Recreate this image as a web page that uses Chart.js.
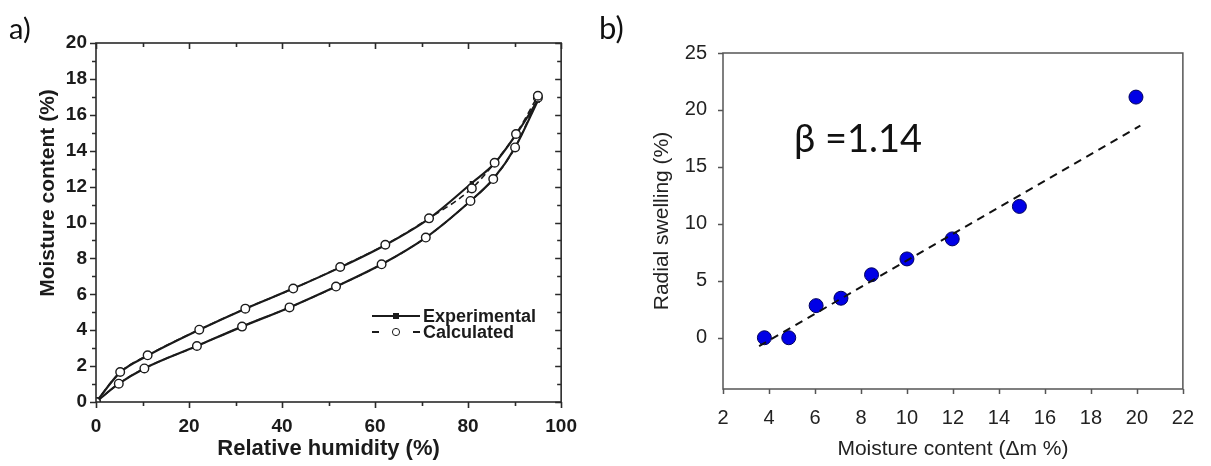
<!DOCTYPE html>
<html>
<head>
<meta charset="utf-8">
<script src="https://cdn.jsdelivr.net/npm/chart.js@4.4.1/dist/chart.umd.min.js"></script>
<style>
  html, body { margin: 0; padding: 0; background: #fff; }
  #page { position: relative; width: 1211px; height: 466px; overflow: hidden; }
  .box { position: absolute; top: 0; height: 466px; }
  #boxA { left: 0; width: 590px; }
  #boxB { left: 590px; width: 621px; }
  .tag { position: absolute; color: #111; white-space: nowrap; line-height: 1; }
  #tagA { left: 9px; top: 10px; font: 29px Lato, 'Open Sans', sans-serif; }
  #tagB { left: 599px; top: 8px; font: 31px Lato, 'Open Sans', sans-serif; }
  #beta { left: 794px; top: 114px; font: 38px Lato, 'Open Sans', sans-serif; }
  #titleYA { left: 47px; top: 193px; transform: translate(-50%, -50%) rotate(-90deg);
             font: bold 21px 'Liberation Sans', Arial, sans-serif; color: #1b1b1b; }
</style>
</head>
<body>
<div id="page">
  <div class="box" id="boxA"><canvas id="chartA" width="590" height="466"></canvas></div>
  <div class="box" id="boxB"><canvas id="chartB" width="621" height="466"></canvas></div>
  <div class="tag" id="tagA">a)</div>
  <div class="tag" id="tagB">b)</div>
  <div class="tag" id="beta">β =1.14</div>
  <div class="tag" id="titleYA">Moisture content (%)</div>
</div>
<script>
// panel a: sorption isotherms (RH %, moisture content %)
const rhUpper   = [0, 5.2, 11.1, 22.2, 32.1, 42.4, 52.5, 62.2, 71.6, 80.8, 85.7, 90.3, 95];
const expUpper  = [0, 1.65, 2.58, 4.02, 5.2, 6.32, 7.5, 8.75, 10.22, 12.2, 13.3, 14.9, 16.8];
const calcUpper = [0, 1.67, 2.6, 4.03, 5.2, 6.32, 7.52, 8.76, 10.23, 11.9, 13.33, 14.93, 17.06];
const rhLower   = [0, 4.9, 10.4, 21.7, 31.4, 41.6, 51.6, 61.4, 70.9, 80.5, 85.4, 90.1, 95];
const expLower  = [0, 1.02, 1.87, 3.12, 4.2, 5.27, 6.43, 7.67, 9.16, 11.2, 12.42, 14.18, 16.8];
const calcLower = [0, 1.02, 1.87, 3.12, 4.2, 5.27, 6.43, 7.67, 9.16, 11.2, 12.42, 14.18, 16.95];
const rhTicks = [0, 20, 40, 60, 80, 100];
const rhMinor = [10, 30, 50, 70, 90];
const mcTicks = [0, 2, 4, 6, 8, 10, 12, 14, 16, 18, 20];
const mcMinor = [1, 3, 5, 7, 9, 11, 13, 15, 17, 19];

// panel b: radial swelling vs moisture content
const dmB = [3.8, 4.86, 6.05, 7.13, 8.46, 10.0, 11.97, 14.89, 19.96];
const swellB = [0, 0, 2.82, 3.47, 5.53, 6.92, 8.68, 11.53, 21.13];
const fitX = [3.57, 20.15];
const fitY = [-0.73, 18.63];
const dmTicks = [2, 4, 6, 8, 10, 12, 14, 16, 18, 20, 22];
const swellTicks = [0, 5, 10, 15, 20, 25];

const ink = '#1b1b1b';
const sans = "'Liberation Sans', Arial, sans-serif";
const pairs = (xs, ys) => xs.map((x, i) => ({ x: x, y: ys[i] }));
const fixTicks = list => scale => { scale.ticks = list.map(v => ({ value: v })); };

// frame around the plot area plus tick marks (side factor 1 = outward, -1 = inward)
const frameTicks = {
  id: 'frameTicks',
  afterDatasetsDraw(chart, args, o) {
    const { ctx, chartArea: a, scales: { x, y } } = chart;
    ctx.save();
    ctx.strokeStyle = o.color;
    ctx.lineWidth = o.width;
    ctx.beginPath();
    const xMark = (vals, len) => vals.forEach(v => {
      const px = Math.round(x.getPixelForValue(v)) + 0.5;
      if (o.bottom) { ctx.moveTo(px, a.bottom); ctx.lineTo(px, a.bottom + len * o.bottom); }
      if (o.top) { ctx.moveTo(px, a.top); ctx.lineTo(px, a.top - len * o.top); }
    });
    const yMark = (vals, len) => vals.forEach(v => {
      const py = Math.round(y.getPixelForValue(v)) + 0.5;
      if (o.left) { ctx.moveTo(a.left, py); ctx.lineTo(a.left - len * o.left, py); }
      if (o.right) { ctx.moveTo(a.right, py); ctx.lineTo(a.right + len * o.right, py); }
    });
    xMark(o.xMajor, o.major); xMark(o.xMinor || [], o.minor);
    yMark(o.yMajor, o.major); yMark(o.yMinor || [], o.minor);
    ctx.stroke();
    ctx.strokeRect(a.left, a.top, a.right - a.left, a.bottom - a.top);
    ctx.restore();
  }
};

// legend of panel a, drawn inside the plot
const legendA = {
  id: 'legendA',
  afterDraw(chart) {
    const { ctx, chartArea: a } = chart;
    const x0 = a.left + 276, y0 = a.top + 273;
    ctx.save();
    ctx.strokeStyle = ink; ctx.fillStyle = ink; ctx.lineWidth = 2;
    ctx.beginPath(); ctx.moveTo(x0, y0); ctx.lineTo(x0 + 48, y0); ctx.stroke();
    ctx.fillRect(x0 + 21, y0 - 3, 6, 6);
    ctx.beginPath();
    ctx.moveTo(x0, y0 + 16); ctx.lineTo(x0 + 7, y0 + 16);
    ctx.moveTo(x0 + 41, y0 + 16); ctx.lineTo(x0 + 48, y0 + 16);
    ctx.stroke();
    ctx.lineWidth = 1;
    ctx.fillStyle = '#fff';
    ctx.beginPath(); ctx.arc(x0 + 24, y0 + 16, 3.6, 0, Math.PI * 2); ctx.fill(); ctx.stroke();
    ctx.fillStyle = ink;
    ctx.font = 'bold 18px ' + sans;
    ctx.textBaseline = 'middle';
    ctx.fillText('Experimental', x0 + 51, y0 + 1);
    ctx.fillText('Calculated', x0 + 51, y0 + 17);
    ctx.restore();
  }
};

const expStyle = {
  borderColor: ink, backgroundColor: ink, borderWidth: 2.2,
  pointStyle: 'rect', pointRadius: 3, pointBorderWidth: 0,
  cubicInterpolationMode: 'monotone'
};
const calcStyle = {
  borderColor: ink, borderWidth: 1.6, borderDash: [6, 4],
  pointStyle: 'circle', pointRadius: 4.3, pointBackgroundColor: '#fff',
  pointBorderColor: ink, pointBorderWidth: 1.4,
  cubicInterpolationMode: 'monotone'
};

new Chart(document.getElementById('chartA'), {
  type: 'line',
  data: {
    datasets: [
      Object.assign({ label: 'Experimental', data: pairs(rhUpper, expUpper) }, expStyle),
      Object.assign({ label: 'Experimental', data: pairs(rhLower, expLower) }, expStyle),
      Object.assign({ label: 'Calculated', data: pairs(rhUpper, calcUpper), order: -1 }, calcStyle),
      Object.assign({ label: 'Calculated', data: pairs(rhLower, calcLower), order: -1 }, calcStyle),
    ],
  },
  options: {
    responsive: false,
    animation: false,
    layout: { padding: { top: 43, right: 17, bottom: 0, left: 0 } },
    scales: {
      x: {
        type: 'linear', min: 0, max: 100,
        afterBuildTicks: fixTicks(rhTicks),
        afterFit: s => { s.height = 64; },
        grid: { display: false, drawTicks: false },
        border: { display: false },
        ticks: { padding: 13, color: ink, font: { family: sans, size: 19, weight: 'bold' } },
        title: { display: true, text: 'Relative humidity (%)', color: ink,
                 padding: { top: 0, bottom: 4 }, font: { family: sans, size: 22, weight: 'bold' } },
      },
      y: {
        type: 'linear', min: 0, max: 20,
        afterBuildTicks: fixTicks(mcTicks),
        afterFit: s => { s.width = 96; },
        grid: { display: false, drawTicks: false },
        border: { display: false },
        ticks: { padding: 9, color: ink, font: { family: sans, size: 19, weight: 'bold' } },
      },
    },
    plugins: {
      legend: { display: false },
      tooltip: { enabled: false },
      frameTicks: { color: '#2a2a2a', width: 1.6, major: 6, minor: 4,
                    xMajor: rhTicks, xMinor: rhMinor, yMajor: mcTicks, yMinor: mcMinor,
                    left: 1, bottom: 1, top: -1, right: -1 },
    },
  },
  plugins: [frameTicks, legendA],
});

new Chart(document.getElementById('chartB'), {
  type: 'scatter',
  data: {
    datasets: [
      { type: 'line', label: 'Fit', data: pairs(fitX, fitY), order: -1,
        borderColor: '#111', borderWidth: 2, borderDash: [8, 6], pointRadius: 0, fill: false },
      { label: 'Radial swelling', data: pairs(dmB, swellB),
        pointRadius: 7, pointBackgroundColor: '#0000e6', pointBorderColor: '#00005c', pointBorderWidth: 1 },
    ],
  },
  options: {
    responsive: false,
    animation: false,
    layout: { padding: { top: 53, right: 21, bottom: 0, left: 0 } },
    scales: {
      x: {
        type: 'linear', min: 2, max: 22,
        afterBuildTicks: fixTicks(dmTicks),
        afterFit: s => { s.height = 77; },
        grid: { display: false, drawTicks: false },
        border: { display: false },
        ticks: { padding: 17, color: '#222', font: { family: sans, size: 20 } },
        title: { display: true, text: 'Moisture content (Δm %)', color: '#222',
                 padding: { top: 0, bottom: 4 }, font: { family: sans, size: 21 } },
      },
      y: {
        type: 'linear', min: -4.5, max: 25,
        afterBuildTicks: fixTicks(swellTicks),
        afterFit: s => { s.width = 133; },
        grid: { display: false, drawTicks: false },
        border: { display: false },
        ticks: { padding: 16, color: '#222', font: { family: sans, size: 20 } },
        title: { display: true, text: 'Radial swelling (%)', color: '#222',
                 padding: { top: 60, bottom: 0 }, font: { family: sans, size: 21 } },
      },
    },
    plugins: {
      legend: { display: false },
      tooltip: { enabled: false },
      frameTicks: { color: '#555', width: 1.5, major: 5,
                    xMajor: dmTicks, yMajor: swellTicks, left: 1, bottom: 1 },
    },
  },
  plugins: [frameTicks],
});
</script>
</body>
</html>
